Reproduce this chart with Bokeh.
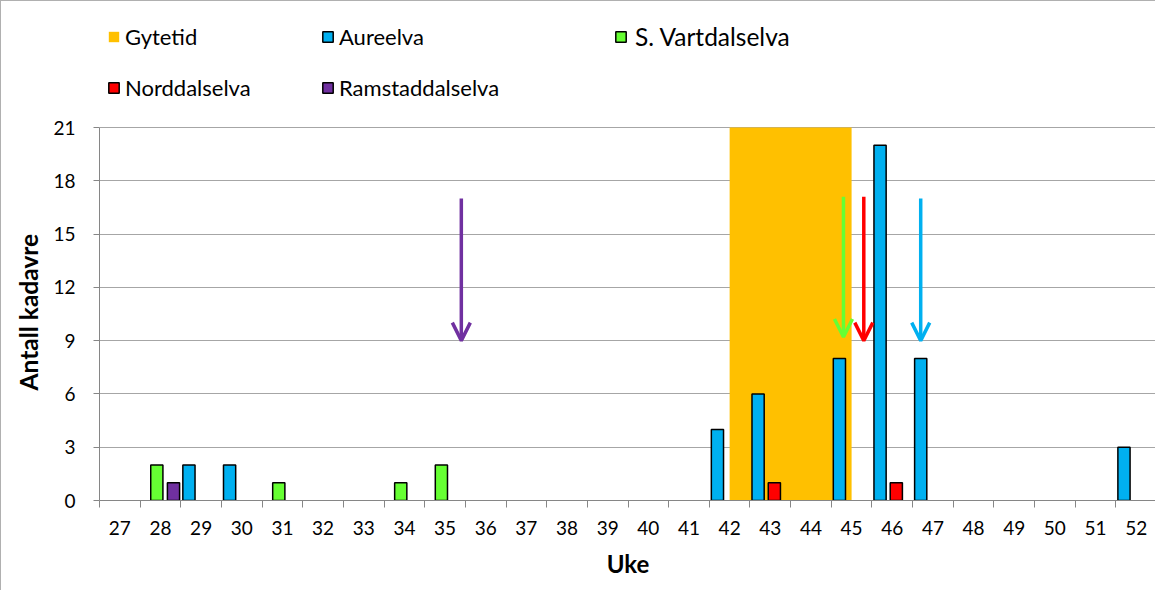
from bokeh.plotting import figure
from bokeh.models import (Range1d, FixedTicker, LinearAxis, Legend, LegendItem,
                          ColumnDataSource, Arrow, OpenHead, Title)
from bokeh.transform import dodge
from bokeh.embed import file_html
from bokeh.resources import INLINE

# ---------------- data ----------------
weeks = list(range(27, 53))
week_labels = [str(w) for w in weeks]

aureelva = {29: 2, 30: 2, 42: 4, 43: 6, 45: 8, 46: 20, 47: 8, 52: 3}
s_vartdalselva = {28: 2, 31: 1, 34: 1, 35: 2}
norddalselva = {43: 1, 46: 1}
ramstaddalselva = {28: 1}

gytetid_start = 42
gytetid_end = 45
gytetid_height = 21

y_ticks = [0, 3, 6, 9, 12, 15, 18, 21]

arrow_weeks = [35.4, 44.8, 45.3, 46.7]
arrow_top = [17, 17.1, 17.1, 17]
arrow_tip = [9, 9.2, 9.0, 9.0]
arrow_series = ["Ramstaddalselva", "S. Vartdalselva", "Norddalselva", "Aureelva"]

# ---------------- style / layout ----------------
colors = {
    "Gytetid": "#FFC000",
    "Aureelva": "#00B0F0",
    "S. Vartdalselva": "#66FF33",
    "Norddalselva": "#FF0000",
    "Ramstaddalselva": "#7030A0",
}
offsets = {"Aureelva": -0.30, "S. Vartdalselva": -0.09,
           "Norddalselva": 0.10, "Ramstaddalselva": 0.32}
BAR_W = 0.30
FONT = "Lato"
AXIS_COL = "#868686"
GRID_COL = "#A6A6A6"

# the frame is extended upward to host the legend; the axis stays 0..21
FRAME_TOP_PX = 12
AXIS_TOP_PX = 126
AXIS_BOT_PX = 499
y_max = gytetid_height * (AXIS_BOT_PX - FRAME_TOP_PX) / (AXIS_BOT_PX - AXIS_TOP_PX)

p = figure(width=1155, height=590, output_backend="svg", toolbar_location=None,
           x_range=Range1d(weeks[0] - 0.5, weeks[-1] + 0.5),
           y_range=Range1d(0, y_max),
           min_border_left=98, min_border_right=0, min_border_top=FRAME_TOP_PX,
           min_border_bottom=590 - AXIS_BOT_PX, background_fill_color="white",
           border_fill_color="white",
           styles={"border-left": "1px solid #B0B0B0", "border-top": "1px solid #B0B0B0"})
p.outline_line_color = None

# spawning period
src_g = ColumnDataSource(dict(left=[gytetid_start], right=[gytetid_end],
                              bottom=[0], top=[gytetid_height]))
r_g = p.quad(left="left", right="right", bottom="bottom", top="top", source=src_g,
             fill_color=colors["Gytetid"], line_color=None)

renderers = {"Gytetid": r_g}
for name, series in [("Aureelva", aureelva), ("S. Vartdalselva", s_vartdalselva),
                     ("Norddalselva", norddalselva), ("Ramstaddalselva", ramstaddalselva)]:
    xs = [w for w in weeks if series.get(w, 0) > 0]
    ys = [series[w] for w in xs]
    src = ColumnDataSource(dict(week=xs, val=ys))
    r = p.vbar(x=dodge("week", offsets[name], range=p.x_range), top="val", width=BAR_W,
               bottom=0, source=src, fill_color=colors[name], line_color="black",
               line_width=1.5)
    renderers[name] = r

for xw, yt, yb, nm in zip(arrow_weeks, arrow_top, arrow_tip, arrow_series):
    c = colors[nm]
    p.add_layout(Arrow(end=OpenHead(size=18, line_color=c, line_width=3.5),
                       x_start=xw, y_start=yt, x_end=xw, y_end=yb,
                       line_color=c, line_width=3.5))

# axes
xa = p.xaxis[0]
xa.ticker = FixedTicker(ticks=weeks, minor_ticks=[w - 0.5 for w in weeks] + [weeks[-1] + 0.5])
xa.major_label_overrides = {w: l for w, l in zip(weeks, week_labels)}
xa.major_tick_line_color = None
xa.major_tick_out = 7
xa.major_tick_in = 0
xa.minor_tick_line_color = AXIS_COL
xa.minor_tick_out = 7
xa.minor_tick_in = 0
xa.axis_line_color = AXIS_COL
xa.major_label_text_font = FONT
xa.major_label_text_font_size = "19px"
xa.major_label_text_color = "black"
xa.major_label_standoff = 13
xa.axis_label = "Uke"
xa.axis_label_text_font = FONT
xa.axis_label_text_font_size = "24px"
xa.axis_label_text_font_style = "bold"
xa.axis_label_text_color = "black"
xa.axis_label_standoff = 11

ya = p.yaxis[0]
ya.ticker = FixedTicker(ticks=y_ticks)
ya.bounds = (0, gytetid_height)
ya.minor_tick_line_color = None
ya.major_tick_out = 6
ya.major_tick_in = 0
ya.major_tick_line_color = AXIS_COL
ya.axis_line_color = AXIS_COL
ya.major_label_text_font = FONT
ya.major_label_text_font_size = "19px"
ya.major_label_text_color = "black"
ya.major_label_standoff = 18

# y-axis title, placed along the 0..21 part of the axis
p.add_layout(Title(text="Antall kadavre", align="left", offset=110,
                   vertical_align="middle", standoff=14,
                   text_font=FONT, text_font_size="24.5px", text_font_style="bold",
                   text_color="black"), "left")

ra = LinearAxis(ticker=FixedTicker(ticks=[]), axis_line_color=AXIS_COL,
                bounds=(0, gytetid_height),
                major_tick_line_color=None, minor_tick_line_color=None,
                major_label_text_font_size="0px")
p.add_layout(ra, "right")

p.xgrid.grid_line_color = None
p.ygrid.ticker = FixedTicker(ticks=y_ticks)
p.ygrid.grid_line_color = GRID_COL

# legends (one per item, positioned like the original grid)
legend_pos = {
    "Gytetid": (8, 450), "Aureelva": (222, 450), "S. Vartdalselva": (515, 449),
    "Norddalselva": (8, 399), "Ramstaddalselva": (222, 399),
}
legend_size = {"S. Vartdalselva": "24.5px"}
legend_standoff = {"S. Vartdalselva": 8}
for name in ["Gytetid", "Aureelva", "S. Vartdalselva", "Norddalselva", "Ramstaddalselva"]:
    lg = Legend(items=[LegendItem(label=name, renderers=[renderers[name]])],
                location=legend_pos[name], padding=0, margin=0, border_line_color=None,
                background_fill_alpha=0, glyph_width=13, glyph_height=13,
                label_standoff=legend_standoff.get(name, 5), label_text_font=FONT,
                label_text_font_size=legend_size.get(name, "22px"),
                label_text_color="black")
    p.add_layout(lg, "center")

open("out.html", "w").write(file_html(p, INLINE))
